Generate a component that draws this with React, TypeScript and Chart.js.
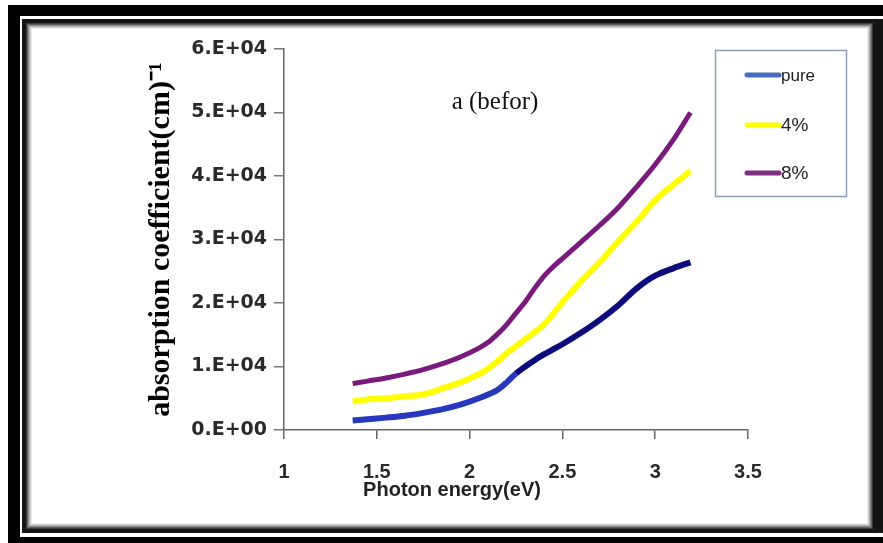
import { useEffect, useRef } from 'react';
import { Chart, registerables } from 'chart.js';

Chart.register(...registerables);

const photonEnergy = [1.37, 1.45, 1.55, 1.65, 1.75, 1.85, 1.95, 2.05, 2.1, 2.15, 2.2, 2.25, 2.3, 2.35, 2.4, 2.45, 2.5, 2.6, 2.7, 2.8, 2.9, 3.0, 3.1, 3.19];
const pureValues = [1500, 1700, 1950, 2250, 2700, 3250, 4000, 5000, 5600, 6300, 7500, 8900, 10000, 11000, 11900, 12700, 13500, 15300, 17300, 19600, 22300, 24300, 25500, 26400];
const fourPercentValues = [4500, 4800, 5000, 5300, 5600, 6500, 7500, 8800, 9700, 10800, 12100, 13200, 14300, 15400, 16600, 18300, 20100, 23400, 26400, 29700, 32800, 36200, 38700, 40800];
const eightPercentValues = [7300, 7700, 8200, 8800, 9500, 10400, 11500, 12900, 13800, 15100, 16600, 18400, 20200, 22300, 24200, 25700, 27000, 29600, 32200, 35000, 38300, 41800, 45800, 50000];
const seriesLabels = ['pure', '4%', '8%'];
const legendColors = ['#4a6cc0', '#ffff00', '#7f2f80'];
const xTickLabels = ['1', '1.5', '2', '2.5', '3', '3.5'];
const yTickLabels = ['0.E+00', '1.E+04', '2.E+04', '3.E+04', '4.E+04', '5.E+04', '6.E+04'];
const annotationText = 'a (befor)';
const xTitle = 'Photon energy(eV)';
const yTitle = 'absorption coefficient(cm)\u207B\u00B9';

const toPoints = (vals: number[]) => vals.map((v, i) => ({ x: photonEnergy[i], y: v }));

const framePlugin = {
  id: 'frame',
  beforeDraw(chart: any) {
    const ctx = chart.ctx;
    const W = chart.width;
    const H = chart.height;
    ctx.save();
    ctx.fillStyle = '#ffffff';
    ctx.fillRect(0, 0, W, H);
    ctx.fillStyle = '#000000';
    ctx.fillRect(8, 5, 12, H - 5);
    ctx.fillRect(8, 5, W - 8, 11);
    ctx.fillRect(8, 537, W - 8, H - 537);
    ctx.fillStyle = '#141414';
    ctx.fillRect(22, 19, W - 22, 4);
    ctx.fillRect(22, 19, 4, 514);
    ctx.fillRect(22, 529, W - 22, 4);
    ctx.fillRect(873, 19, W - 873, 514);
    const shades = ['#3a3a3a', '#606060', '#8a8a8a', '#b0b0b0', '#d2d2d2', '#ececec'];
    shades.forEach((c, i) => {
      ctx.strokeStyle = c;
      ctx.lineWidth = 1;
      const o = i + 0.5;
      ctx.strokeRect(26 + o, 23 + o, 873 - 26 - 2 * o, 529 - 23 - 2 * o);
    });
    ctx.restore();
  },
  afterDraw(chart: any) {
    const ctx = chart.ctx;
    ctx.save();
    ctx.fillStyle = '#111';
    ctx.font = '25px "Liberation Serif"';
    ctx.textAlign = 'center';
    ctx.textBaseline = 'alphabetic';
    ctx.fillText(annotationText, 495, 109);
    ctx.font = 'bold 20px "Liberation Sans"';
    ctx.fillStyle = '#222';
    ctx.textBaseline = 'middle';
    ctx.fillText(xTitle, 452, 490);
    ctx.strokeStyle = '#8fa0b4';
    ctx.lineWidth = 1.5;
    ctx.strokeRect(715.5, 50.5, 131, 146);
    const rows = [75, 125, 173];
    chart.data.datasets.forEach((ds: any, i: number) => {
      ctx.strokeStyle = legendColors[i];
      ctx.lineWidth = 5;
      ctx.lineCap = 'round';
      ctx.beginPath();
      ctx.moveTo(747, rows[i]);
      ctx.lineTo(779, rows[i]);
      ctx.stroke();
      ctx.fillStyle = '#222';
      ctx.font = (i === 0 ? '17px' : '19px') + ' "Liberation Sans Narrow", "Liberation Sans"';
      ctx.textAlign = 'left';
      ctx.textBaseline = 'middle';
      ctx.fillText(ds.label, 781, rows[i] + 1);
    });
    ctx.restore();
  },
};

export default function App() {
  const ref = useRef<HTMLCanvasElement | null>(null);
  useEffect(() => {
    if (!ref.current) return;
    const chart = new Chart(ref.current, {
      type: 'line',
      data: {
        datasets: [
          {
            label: seriesLabels[0],
            data: toPoints(pureValues),
            borderColor: '#1a1a96',
            borderWidth: 6,
            pointRadius: 0,
            cubicInterpolationMode: 'monotone',
            segment: {
              borderColor: (c: any) => (c.p0.parsed.x < 2.25 ? '#2838bc' : '#0c0c7c'),
            },
          },
          {
            label: seriesLabels[1],
            data: toPoints(fourPercentValues),
            borderColor: '#ffff00',
            borderWidth: 6,
            pointRadius: 0,
            cubicInterpolationMode: 'monotone',
          },
          {
            label: seriesLabels[2],
            data: toPoints(eightPercentValues),
            borderColor: '#7a1a7c',
            borderWidth: 5,
            pointRadius: 0,
            cubicInterpolationMode: 'monotone',
          },
        ],
      },
      options: {
        responsive: false,
        animation: false,
        devicePixelRatio: 1,
        layout: { padding: { left: 143, right: 135, top: 49, bottom: 50 } },
        plugins: { legend: { display: false }, tooltip: { enabled: false } },
        scales: {
          x: {
            type: 'linear',
            min: 1,
            max: 3.5,
            afterFit: (s: any) => { s.height = 63; },
            border: { color: '#666', width: 1.5 },
            grid: { drawOnChartArea: false, drawTicks: true, tickLength: 9, color: '#666', lineWidth: 1.5 },
            ticks: {
              stepSize: 0.5,
              padding: 21,
              color: '#2a2a2a',
              font: { family: '"Liberation Sans"', weight: 'bold', size: 20 },
              maxRotation: 0,
              callback: (_v: any, i: number) => xTickLabels[i],
            },
          },
          y: {
            min: 0,
            max: 60000,
            afterFit: (s: any) => { s.width = 141; },
            border: { color: '#666', width: 1.5 },
            grid: { drawOnChartArea: false, drawTicks: true, tickLength: 10, color: '#777', lineWidth: 1.5 },
            ticks: {
              stepSize: 10000,
              padding: 7,
              color: '#2a2a2a',
              font: { family: '"DejaVu Sans"', weight: 'bold', size: 19 },
              callback: (_v: any, i: number) => yTickLabels[i],
            },
            title: {
              display: true,
              text: yTitle,
              color: '#000',
              padding: { top: 0, bottom: 0 },
              font: { family: '"Liberation Serif"', weight: 'bold', size: 30 },
            },
          },
        },
      },
      plugins: [framePlugin],
    } as any);
    return () => chart.destroy();
  }, []);
  return (
    <div style={{ position: 'absolute', left: 0, top: 0, width: 883, height: 543 }}>
      <canvas ref={ref} width={883} height={543} style={{ width: 883, height: 543, display: 'block' }} />
    </div>
  );
}
